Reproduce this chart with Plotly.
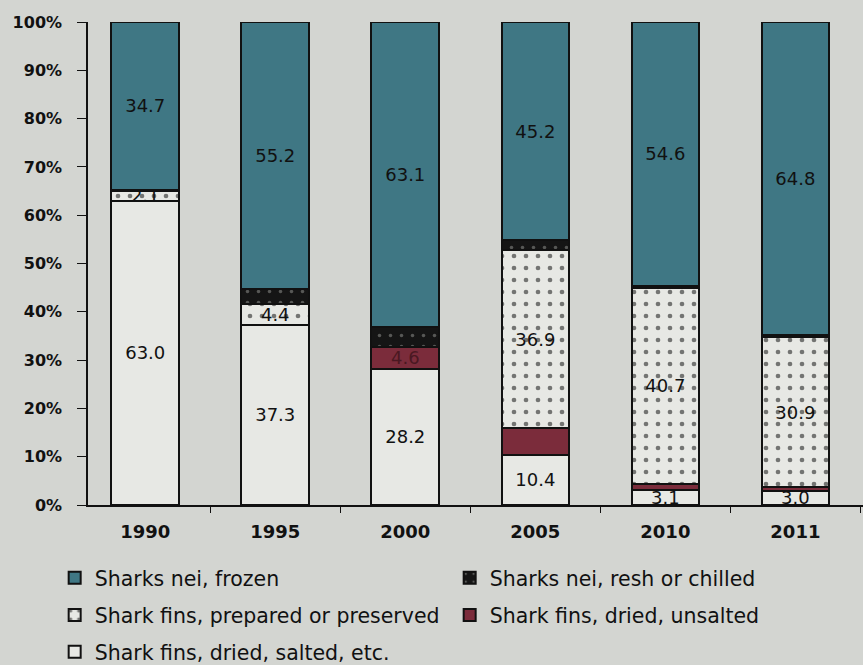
import plotly.graph_objects as go

# Share of shark product imports by year (%), stacked bottom to top
years = ["1990", "1995", "2000", "2005", "2010", "2011"]

fins_dried_salted = [63.0, 37.3, 28.2, 10.4, 3.1, 3.0]
fins_dried_unsalted = [0.0, 0.0, 4.6, 5.5, 1.2, 0.8]
fins_prepared = [2.1, 4.4, 0.0, 36.9, 40.7, 30.9]
sharks_fresh = [0.2, 3.1, 4.1, 2.0, 0.4, 0.5]
sharks_frozen = [34.7, 55.2, 63.1, 45.2, 54.6, 64.8]

y_ticks = [0, 10, 20, 30, 40, 50, 60, 70, 80, 90, 100]
y_tick_text = [f"{t}%" for t in y_ticks]

BG = "#d3d5d1"
LIGHT = "#e7e8e4"
TEAL = "#3f7784"
MAROON = "#7b2c3b"
DARK = "#151515"
FONT = "DejaVu Sans"


def fmt(values, shown):
    return [f"{v:.1f}" if s else "" for v, s in zip(values, shown)]


fig = go.Figure()

outline = dict(color="#111111", width=2)

fig.add_trace(go.Bar(
    name="Shark fins, dried, salted, etc.",
    legend="legend3",
    x=years, y=fins_dried_salted,
    marker=dict(color=LIGHT, line=outline),
    text=fmt(fins_dried_salted, [True] * 6),
))
fig.add_trace(go.Bar(
    name="Shark fins, dried, unsalted",
    legend="legend2",
    x=years, y=fins_dried_unsalted,
    marker=dict(color=MAROON, line=outline),
    text=fmt(fins_dried_unsalted, [False, False, True, False, False, False]),
    textfont=dict(color="#4a1822"),
))
fig.add_trace(go.Bar(
    name="Shark fins, prepared or preserved",
    legend="legend2",
    x=years, y=fins_prepared,
    marker=dict(color=LIGHT, line=outline,
                pattern=dict(shape=".", fgcolor="#000000", bgcolor=LIGHT,
                             size=12, solidity=0.12)),
    text=fmt(fins_prepared, [True, True, False, True, True, True]),
))
fig.add_trace(go.Bar(
    name="Sharks nei, resh or chilled",
    legend="legend",
    x=years, y=sharks_fresh,
    marker=dict(color=DARK, line=outline,
                pattern=dict(shape=".", fgcolor="#9a9c98", bgcolor=DARK,
                             size=11, solidity=0.08)),
))
fig.add_trace(go.Bar(
    name="Sharks nei, frozen",
    legend="legend",
    x=years, y=sharks_frozen,
    marker=dict(color=TEAL, line=outline),
    text=fmt(sharks_frozen, [True] * 6),
))

fig.update_traces(
    width=0.52,
    textposition="inside",
    insidetextanchor="middle",
    constraintext="none",
    textangle=0,
    cliponaxis=False,
    selector=dict(type="bar"),
)
for tr in fig.data:
    color = tr.textfont.color if tr.textfont.color is not None else "#111111"
    tr.textfont = dict(family=FONT, size=18, color=color)

# one legend per row so the row spacing can be set explicitly
legend_common = dict(
    orientation="h",
    traceorder="reversed",
    xanchor="left", yanchor="middle",
    x=-0.043,
    entrywidth=350, entrywidthmode="pixels",
    font=dict(family=FONT, size=20.5, color="#111111"),
    bgcolor="rgba(0,0,0,0)",
    borderwidth=0,
)

fig.update_layout(
    barmode="stack",
    width=863, height=665,
    paper_bgcolor=BG, plot_bgcolor=BG,
    margin=dict(l=88, r=0, t=22, b=160, autoexpand=False),
    font=dict(family=FONT, color="#111111"),
    uniformtext=dict(minsize=18, mode="show"),
    showlegend=True,
    legend=dict(legend_common, y=-0.151),
    legend2=dict(legend_common, y=-0.228),
    legend3=dict(legend_common, y=-0.304),
    xaxis=dict(
        type="category",
        range=[-0.44, 5.52],
        showline=True, linecolor="#111111", linewidth=1.5,
        ticks="outside", tickson="boundaries", ticklen=6, tickcolor="#111111",
        ticklabelstandoff=10,
        tickfont=dict(family=FONT, size=18, color="#111111", weight="bold"),
        showgrid=False, zeroline=False,
    ),
    yaxis=dict(
        range=[0, 100],
        tickvals=y_ticks,
        ticktext=y_tick_text,
        showline=True, linecolor="#111111", linewidth=1.5,
        ticks="outside", ticklen=9, tickcolor="#111111",
        ticklabelstandoff=12,
        tickfont=dict(family=FONT, size=16, color="#111111", weight="bold"),
        showgrid=False, zeroline=False,
    ),
)

fig.write_html("out.html")
